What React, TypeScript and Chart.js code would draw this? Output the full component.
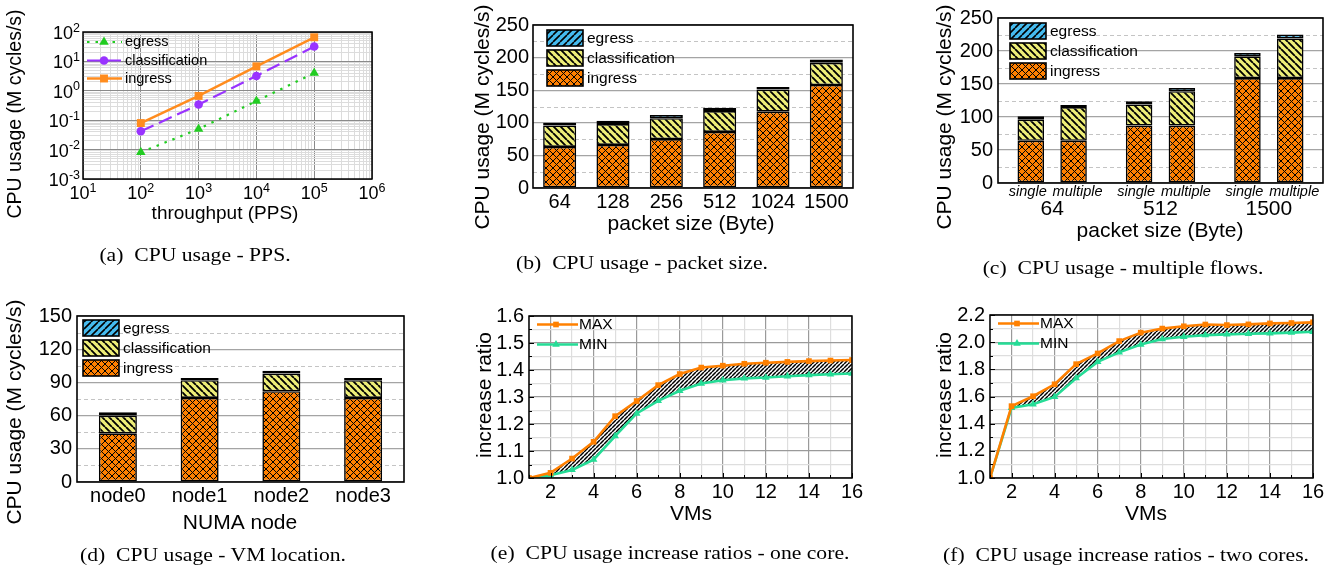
import React, { useEffect, useRef } from 'react';
import { Chart, registerables } from 'chart.js';

Chart.register(...registerables);

const W = 1335;
const H = 574;
const SANS = '"Liberation Sans", Arial, Helvetica, sans-serif';
const SERIF = '"Liberation Serif", "Times New Roman", Times, serif';

// ---------------- data ----------------
// (a) CPU usage vs PPS (log-log)
const PPS_RATES = [1e2, 1e3, 1e4, 1e5];
const PPS_EGRESS = [0.0081, 0.05, 0.45, 4.0];
const PPS_CLASSIFICATION = [0.042, 0.34, 3.2, 32];
const PPS_INGRESS = [0.08, 0.67, 6.8, 66];
const PPS_X_EXPONENTS = [1, 2, 3, 4, 5, 6];
const PPS_Y_EXPONENTS = [-3, -2, -1, 0, 1, 2];

// (b) CPU usage vs packet size
const PACKET_SIZES = ['64', '128', '256', '512', '1024', '1500'];
const SIZE_INGRESS = [63, 66, 75, 86, 117, 158];
const SIZE_CLASSIFICATION = [33, 32, 32, 32, 34, 34];
const SIZE_EGRESS = [4, 5, 5, 5, 4, 5];

// (c) CPU usage, single vs multiple flows
const FLOW_SIZES = ['64', '512', '1500'];
const FLOW_MODES = ['single', 'multiple'];
const SINGLE_INGRESS = [64, 87, 159];
const SINGLE_CLASSIFICATION = [32, 32, 33];
const SINGLE_EGRESS = [5, 5, 5];
const MULTIPLE_INGRESS = [64, 87, 159];
const MULTIPLE_CLASSIFICATION = [51, 52, 60];
const MULTIPLE_EGRESS = [3, 5, 6];

// (d) CPU usage vs VM location
const NUMA_NODES = ['node0', 'node1', 'node2', 'node3'];
const NUMA_INGRESS = [44, 76, 82, 76];
const NUMA_CLASSIFICATION = [16, 16, 16, 16];
const NUMA_EGRESS = [3, 2, 2.5, 2];

// (e)/(f) increase ratios
const VMS = [1, 2, 3, 4, 5, 6, 7, 8, 9, 10, 11, 12, 13, 14, 15, 16];
const ONE_CORE_MAX = [1.0, 1.019, 1.072, 1.134, 1.229, 1.285, 1.344, 1.385, 1.409, 1.416, 1.423, 1.427, 1.43, 1.433, 1.435, 1.437];
const ONE_CORE_MIN = [1.0, 1.01, 1.03, 1.068, 1.155, 1.239, 1.286, 1.323, 1.35, 1.362, 1.369, 1.372, 1.377, 1.381, 1.384, 1.387];
const TWO_CORE_MAX = [1.0, 1.529, 1.602, 1.69, 1.838, 1.917, 2.008, 2.07, 2.1, 2.117, 2.13, 2.126, 2.131, 2.138, 2.141, 2.146];
const TWO_CORE_MIN = [1.0, 1.516, 1.543, 1.597, 1.735, 1.855, 1.925, 1.983, 2.023, 2.04, 2.052, 2.057, 2.062, 2.065, 2.07, 2.077];

// ---------------- styles ----------------
const ORANGE = '#ff8000';
const YELLOW = '#eeee78';
const BLUE = '#45bbef';
const A_GREEN = '#22cc22';
const A_PURPLE = '#9933ff';
const A_ORANGE = '#ff8c1e';
const MIN_GREEN = '#25dc96';

type Area = { l: number; t: number; r: number; b: number };
const AREA_A: Area = { l: 83, t: 32, r: 372, b: 179 };
const AREA_B: Area = { l: 533, t: 25, r: 853, b: 188 };
const AREA_C: Area = { l: 998, t: 18, r: 1323, b: 183 };
const AREA_D: Area = { l: 77, t: 316, r: 404, b: 482 };
const AREA_E: Area = { l: 529, t: 316, r: 852, b: 478 };
const AREA_F: Area = { l: 990, t: 315, r: 1313, b: 478 };

const YW = 50;
const XH = 30;

function layoutFor(a: Area) {
  return { padding: { left: a.l - YW, top: a.t, right: W - a.r, bottom: H - a.b - XH } };
}

function makePattern(kind: string): any {
  const c = document.createElement('canvas');
  const ctx = c.getContext('2d')!;
  let s = 6;
  if (kind === 'cross') {
    s = 7;
    c.width = s; c.height = s;
    ctx.fillStyle = ORANGE; ctx.fillRect(0, 0, s, s);
    ctx.strokeStyle = '#000'; ctx.lineWidth = 1.0;
    ctx.beginPath();
    ctx.moveTo(0, 0); ctx.lineTo(s, s);
    ctx.moveTo(s, 0); ctx.lineTo(0, s);
    ctx.stroke();
  } else if (kind === 'back') {
    s = 7;
    c.width = s; c.height = s;
    ctx.fillStyle = YELLOW; ctx.fillRect(0, 0, s, s);
    ctx.strokeStyle = '#000'; ctx.lineWidth = 1.9;
    ctx.beginPath();
    for (const k of [-s, 0, s]) { ctx.moveTo(k, 0); ctx.lineTo(k + s, s); }
    ctx.stroke();
  } else if (kind === 'fwd') {
    s = 7;
    c.width = s; c.height = s;
    ctx.fillStyle = BLUE; ctx.fillRect(0, 0, s, s);
    ctx.strokeStyle = '#000'; ctx.lineWidth = 1.6;
    ctx.beginPath();
    for (const k of [-s, 0, s]) { ctx.moveTo(k, s); ctx.lineTo(k + s, 0); }
    ctx.stroke();
  } else {
    s = 4;
    c.width = s; c.height = s;
    ctx.fillStyle = '#fff'; ctx.fillRect(0, 0, s, s);
    ctx.strokeStyle = '#000'; ctx.lineWidth = 1.5;
    ctx.beginPath();
    for (const k of [-s, 0, s]) { ctx.moveTo(k, s); ctx.lineTo(k + s, 0); }
    ctx.stroke();
  }
  return ctx.createPattern(c, 'repeat');
}

type TextSpec = { text: string; x: number; y: number; size: number; rotate?: boolean; italic?: boolean; align?: CanvasTextAlign };

function drawText(ctx: CanvasRenderingContext2D, t: TextSpec) {
  ctx.save();
  ctx.fillStyle = '#000';
  ctx.font = `${t.italic ? 'italic ' : ''}${t.size}px ${SANS}`;
  ctx.textAlign = t.align || 'center';
  ctx.textBaseline = 'middle';
  ctx.translate(t.x, t.y);
  if (t.rotate) ctx.rotate(-Math.PI / 2);
  ctx.fillText(t.text, 0, 0);
  ctx.restore();
}

function drawFrame(chart: any, lw = 1.5) {
  const { ctx, chartArea } = chart;
  ctx.save();
  ctx.strokeStyle = '#000';
  ctx.lineWidth = lw;
  ctx.strokeRect(chartArea.left, chartArea.top, chartArea.right - chartArea.left, chartArea.bottom - chartArea.top);
  ctx.restore();
}

function drawMinorY(chart: any, start: number, step: number, max: number) {
  const { ctx, chartArea } = chart;
  const y = chart.scales.y;
  ctx.save();
  ctx.strokeStyle = '#c4c4c4';
  ctx.lineWidth = 1;
  ctx.setLineDash([4, 3]);
  for (let v = start; v < max; v += step) {
    const py = Math.round(y.getPixelForValue(v)) + 0.5;
    ctx.beginPath();
    ctx.moveTo(chartArea.left, py);
    ctx.lineTo(chartArea.right, py);
    ctx.stroke();
  }
  ctx.restore();
}

function drawMarker(ctx: CanvasRenderingContext2D, style: string, x: number, y: number, r: number, color: string) {
  ctx.save();
  ctx.fillStyle = color;
  ctx.beginPath();
  if (style === 'rect') {
    const s = Math.SQRT1_2 * r;
    ctx.rect(x - s, y - s, 2 * s, 2 * s);
  } else if (style === 'triangle') {
    let rad = 0;
    ctx.moveTo(x + Math.sin(rad) * r, y - Math.cos(rad) * r);
    rad += (2 * Math.PI) / 3;
    ctx.lineTo(x + Math.sin(rad) * r, y - Math.cos(rad) * r);
    rad += (2 * Math.PI) / 3;
    ctx.lineTo(x + Math.sin(rad) * r, y - Math.cos(rad) * r);
    ctx.closePath();
  } else {
    ctx.arc(x, y, r, 0, Math.PI * 2);
  }
  ctx.fill();
  ctx.restore();
}

function drawBarLegend(chart: any, order: number[], x: number, y: number, size: number) {
  const ctx = chart.ctx;
  order.forEach((di, row) => {
    const ds = chart.data.datasets[di];
    const top = y + row * 20;
    ctx.save();
    ctx.fillStyle = ds.backgroundColor;
    ctx.fillRect(x, top, 36, 16);
    ctx.strokeStyle = '#000';
    ctx.lineWidth = 1.6;
    ctx.strokeRect(x, top, 36, 16);
    ctx.restore();
    drawText(ctx, { text: ds.label, x: x + 40, y: top + 8.5, size, align: 'left' });
  });
}

function drawLineLegend(chart: any, rows: { di: number; y: number }[], x0: number, len: number, markX: number, textX: number, size: number) {
  const ctx = chart.ctx;
  rows.forEach(({ di, y }) => {
    const ds = chart.data.datasets[di];
    ctx.save();
    ctx.strokeStyle = ds.borderColor;
    ctx.lineWidth = ds.borderWidth;
    ctx.setLineDash(ds.borderDash || []);
    ctx.beginPath();
    ctx.moveTo(x0, y);
    ctx.lineTo(x0 + len, y);
    ctx.stroke();
    ctx.restore();
    drawMarker(ctx, ds.pointStyle, markX, y, ds.pointRadius, ds.pointBackgroundColor);
    drawText(ctx, { text: ds.label, x: textX, y, size, align: 'left' });
  });
}

function drawPow(ctx: CanvasRenderingContext2D, x: number, y: number, exp: string, align: 'center' | 'right') {
  ctx.save();
  ctx.fillStyle = '#000';
  ctx.textBaseline = 'alphabetic';
  ctx.textAlign = 'left';
  ctx.font = `18px ${SANS}`;
  const w1 = ctx.measureText('10').width;
  ctx.font = `12.5px ${SANS}`;
  const w2 = ctx.measureText(exp).width;
  const x0 = align === 'center' ? x - (w1 + w2) / 2 : x - (w1 + w2);
  ctx.font = `18px ${SANS}`;
  ctx.fillText('10', x0, y);
  ctx.font = `12.5px ${SANS}`;
  ctx.fillText(exp, x0 + w1, y - 7.5);
  ctx.restore();
}

const BASE_OPTIONS = {
  responsive: false,
  animation: false,
  events: [],
};
const BASE_PLUGINS = { legend: { display: false }, tooltip: { enabled: false } };

// ---------------- (a) ----------------
function logTicks(exps: number[]) {
  const t: { value: number }[] = [];
  exps.forEach((e, i) => {
    const base = Math.pow(10, e);
    t.push({ value: base });
    if (i < exps.length - 1) for (let m = 2; m <= 9; m++) t.push({ value: m * base });
  });
  return t;
}
const isDecade = (v: number) => Math.abs(Math.log10(v) - Math.round(Math.log10(v))) < 1e-6;

function buildA(): any {
  const area = AREA_A;
  const pts = (ys: number[]) => PPS_RATES.map((x, i) => ({ x, y: ys[i] }));
  const gridColor = (c: any) => (c.tick && isDecade(c.tick.value) ? '#8a8a8a' : '#dcdcdc');
  const line = (label: string, ys: number[], color: string, dash: number[], style: string, r: number, w: number) => ({
    label, data: pts(ys), borderColor: color, backgroundColor: color, borderWidth: w, borderDash: dash,
    pointStyle: style, pointRadius: r, pointBackgroundColor: color, pointBorderColor: color, pointBorderWidth: 0,
    fill: false, tension: 0,
  });
  return {
    type: 'line',
    data: {
      datasets: [
        line('egress', PPS_EGRESS, A_GREEN, [2.5, 6], 'triangle', 5.5, 2.2),
        line('classification', PPS_CLASSIFICATION, A_PURPLE, [14, 6], 'circle', 4.3, 2.2),
        line('ingress', PPS_INGRESS, A_ORANGE, [], 'rect', 5.6, 2.4),
      ],
    },
    options: {
      ...BASE_OPTIONS,
      plugins: BASE_PLUGINS,
      layout: layoutFor(area),
      scales: {
        x: {
          type: 'logarithmic', min: 10, max: 1e6,
          afterBuildTicks: (s: any) => { s.ticks = logTicks(PPS_X_EXPONENTS); },
          ticks: { display: false },
          grid: { color: gridColor, drawTicks: false, lineWidth: 1 },
          border: { display: false },
          afterFit: (s: any) => { s.height = XH; },
        },
        y: {
          type: 'logarithmic', min: 1e-3, max: 100,
          afterBuildTicks: (s: any) => { s.ticks = logTicks(PPS_Y_EXPONENTS); },
          ticks: { display: false },
          grid: { color: gridColor, drawTicks: false, lineWidth: 1 },
          border: { display: false },
          afterFit: (s: any) => { s.width = YW; },
        },
      },
    },
    plugins: [{
      id: 'decorA',
      afterDraw(chart: any) {
        const { ctx } = chart;
        drawFrame(chart, 1.5);
        const xs = chart.scales.x;
        const ys = chart.scales.y;
        PPS_X_EXPONENTS.forEach((e) => drawPow(ctx, xs.getPixelForValue(Math.pow(10, e)), area.b + 20, String(e), 'center'));
        PPS_Y_EXPONENTS.forEach((e) => drawPow(ctx, area.l - 3, ys.getPixelForValue(Math.pow(10, e)) + 7, String(e), 'right'));
        drawLineLegend(chart, [{ di: 0, y: area.t + 10 }, { di: 1, y: area.t + 28.5 }, { di: 2, y: area.t + 46.5 }], area.l + 4, 35, area.l + 21, area.l + 42, 14.5);
        drawText(ctx, { text: 'CPU usage (M cycles/s)', x: 16, y: 114, size: 19.5, rotate: true });
        drawText(ctx, { text: 'throughput (PPS)', x: 225, y: 214, size: 19 });
      },
    }],
  };
}

// ---------------- bar helpers ----------------
function barDs(label: string, data: number[], fill: any, stack?: string, extra: any = {}) {
  const d: any = { label, data, backgroundColor: fill, borderColor: '#000', borderWidth: 1.6, borderSkipped: false, ...extra };
  if (stack) d.stack = stack;
  return d;
}

function barScales(yMax: number, yStep: number, showX: boolean, yPad: number) {
  return {
    x: {
      stacked: true,
      grid: { display: false, drawTicks: false },
      border: { display: false },
      ticks: { display: showX, color: '#000', font: { family: SANS, size: 20 }, padding: 2, maxRotation: 0, autoSkip: false },
      afterFit: (s: any) => { s.height = XH; },
    },
    y: {
      stacked: true, min: 0, max: yMax,
      grid: { color: '#a4a4a4', lineWidth: 1.3, drawTicks: false },
      border: { display: false },
      ticks: { stepSize: yStep, color: '#000', font: { family: SANS, size: 20 }, padding: yPad },
      afterFit: (s: any) => { s.width = YW; },
    },
  };
}

// ---------------- (b) ----------------
function buildB(): any {
  const area = AREA_B;
  const bp = { categoryPercentage: 1, barPercentage: 0.62 };
  return {
    type: 'bar',
    data: {
      labels: PACKET_SIZES,
      datasets: [
        barDs('ingress', SIZE_INGRESS, makePattern('cross'), undefined, bp),
        barDs('classification', SIZE_CLASSIFICATION, makePattern('back'), undefined, bp),
        barDs('egress', SIZE_EGRESS, makePattern('fwd'), undefined, bp),
      ],
    },
    options: { ...BASE_OPTIONS, plugins: BASE_PLUGINS, layout: layoutFor(area), scales: barScales(250, 50, true, 4) },
    plugins: [{
      id: 'decorB',
      beforeDatasetsDraw(chart: any) { drawMinorY(chart, 25, 50, 250); },
      afterDraw(chart: any) {
        const { ctx } = chart;
        drawFrame(chart, 1.6);
        drawBarLegend(chart, [2, 1, 0], area.l + 14, area.t + 5, 15.5);
        drawText(ctx, { text: 'CPU usage (M cycles/s)', x: 483, y: 117, size: 21, rotate: true });
        drawText(ctx, { text: 'packet size (Byte)', x: 691, y: 224, size: 21 });
      },
    }],
  };
}

// ---------------- (c) ----------------
function buildC(): any {
  const area = AREA_C;
  const bp = { categoryPercentage: 0.79, barPercentage: 0.62 };
  const pc = makePattern('cross');
  const pb = makePattern('back');
  const pf = makePattern('fwd');
  return {
    type: 'bar',
    data: {
      labels: FLOW_SIZES,
      datasets: [
        barDs('ingress', SINGLE_INGRESS, pc, FLOW_MODES[0], bp),
        barDs('classification', SINGLE_CLASSIFICATION, pb, FLOW_MODES[0], bp),
        barDs('egress', SINGLE_EGRESS, pf, FLOW_MODES[0], bp),
        barDs('ingress', MULTIPLE_INGRESS, pc, FLOW_MODES[1], bp),
        barDs('classification', MULTIPLE_CLASSIFICATION, pb, FLOW_MODES[1], bp),
        barDs('egress', MULTIPLE_EGRESS, pf, FLOW_MODES[1], bp),
      ],
    },
    options: { ...BASE_OPTIONS, plugins: BASE_PLUGINS, layout: layoutFor(area), scales: barScales(250, 50, false, 5) },
    plugins: [{
      id: 'decorC',
      beforeDatasetsDraw(chart: any) { drawMinorY(chart, 25, 50, 250); },
      afterDraw(chart: any) {
        const { ctx } = chart;
        drawFrame(chart, 1.6);
        const xs = chart.scales.x;
        const mSingle = chart.getDatasetMeta(0).data;
        const mMulti = chart.getDatasetMeta(3).data;
        FLOW_SIZES.forEach((label, i) => {
          drawText(ctx, { text: FLOW_MODES[0], x: mSingle[i].x - 3, y: 192, size: 14.5, italic: true });
          drawText(ctx, { text: FLOW_MODES[1], x: mMulti[i].x + 4, y: 192, size: 14.5, italic: true });
          drawText(ctx, { text: label, x: xs.getPixelForValue(i), y: 209.5, size: 21 });
        });
        drawBarLegend(chart, [2, 1, 0], area.l + 12, area.t + 5, 15.5);
        drawText(ctx, { text: 'CPU usage (M cycles/s)', x: 945, y: 117, size: 21, rotate: true });
        drawText(ctx, { text: 'packet size (Byte)', x: 1160, y: 231, size: 21 });
      },
    }],
  };
}

// ---------------- (d) ----------------
function buildD(): any {
  const area = AREA_D;
  const bp = { categoryPercentage: 1, barPercentage: 0.465 };
  return {
    type: 'bar',
    data: {
      labels: NUMA_NODES,
      datasets: [
        barDs('ingress', NUMA_INGRESS, makePattern('cross'), undefined, bp),
        barDs('classification', NUMA_CLASSIFICATION, makePattern('back'), undefined, bp),
        barDs('egress', NUMA_EGRESS, makePattern('fwd'), undefined, bp),
      ],
    },
    options: { ...BASE_OPTIONS, plugins: BASE_PLUGINS, layout: layoutFor(area), scales: barScales(150, 30, true, 5) },
    plugins: [{
      id: 'decorD',
      beforeDatasetsDraw(chart: any) { drawMinorY(chart, 15, 30, 150); },
      afterDraw(chart: any) {
        const { ctx } = chart;
        drawFrame(chart, 1.6);
        drawBarLegend(chart, [2, 1, 0], area.l + 6, area.t + 4, 15.5);
        drawText(ctx, { text: 'CPU usage (M cycles/s)', x: 15, y: 412, size: 21, rotate: true });
        drawText(ctx, { text: 'NUMA node', x: 240, y: 523, size: 21 });
      },
    }],
  };
}

// ---------------- (e)/(f) ----------------
function buildRatio(area: Area, maxData: number[], minData: number[], yMax: number, yStep: number, yTitleX: number, xTitleX: number): any {
  const majorMinor = (isMajor: boolean) => (isMajor ? '#9a9a9a' : '#dedede');
  return {
    type: 'line',
    data: {
      labels: VMS,
      datasets: [
        {
          label: 'MAX', data: VMS.map((x, i) => ({ x, y: maxData[i] })),
          borderColor: ORANGE, borderWidth: 2.6, backgroundColor: makePattern('band'), fill: '+1',
          pointStyle: 'rect', pointRadius: 4, pointBackgroundColor: ORANGE, pointBorderColor: ORANGE, pointBorderWidth: 0, tension: 0,
        },
        {
          label: 'MIN', data: VMS.map((x, i) => ({ x, y: minData[i] })),
          borderColor: MIN_GREEN, borderWidth: 2.6, backgroundColor: MIN_GREEN, fill: false,
          pointStyle: 'triangle', pointRadius: 4.4, pointBackgroundColor: MIN_GREEN, pointBorderColor: MIN_GREEN, pointBorderWidth: 0, tension: 0,
        },
      ],
    },
    options: {
      ...BASE_OPTIONS,
      plugins: { ...BASE_PLUGINS, filler: { drawTime: 'beforeDatasetsDraw' } },
      layout: layoutFor(area),
      scales: {
        x: {
          type: 'linear', min: VMS[0], max: VMS[VMS.length - 1],
          afterBuildTicks: (s: any) => { s.ticks = VMS.map((v) => ({ value: v })); },
          ticks: { autoSkip: false, maxRotation: 0, color: '#000', font: { family: SANS, size: 20 }, padding: 2, callback: (v: any) => (Number(v) % 2 === 0 ? String(v) : '') },
          grid: { color: (c: any) => majorMinor(!!c.tick && c.tick.value % 2 === 0), drawTicks: false, lineWidth: 1.2 },
          border: { display: false },
          afterFit: (s: any) => { s.height = XH; },
        },
        y: {
          min: 1, max: yMax,
          ticks: { stepSize: yStep, autoSkip: false, color: '#000', font: { family: SANS, size: 20 }, padding: 5, callback: (v: any, i: number) => (i % 2 === 0 ? Number(v).toFixed(1) : '') },
          grid: { color: (c: any) => majorMinor(c.index % 2 === 0), drawTicks: false, lineWidth: 1.2 },
          border: { display: false },
          afterFit: (s: any) => { s.width = YW; },
        },
      },
    },
    plugins: [{
      id: 'decorRatio',
      afterDraw(chart: any) {
        const { ctx, chartArea } = chart;
        ctx.save();
        ctx.strokeStyle = '#000';
        ctx.lineWidth = 1;
        chart.scales.y.ticks.forEach((t: any, i: number) => {
          const py = Math.round(chart.scales.y.getPixelForValue(t.value)) + 0.5;
          ctx.beginPath(); ctx.moveTo(chartArea.left, py); ctx.lineTo(chartArea.left + (i % 2 === 0 ? 5 : 3), py); ctx.stroke();
        });
        chart.scales.x.ticks.forEach((t: any) => {
          const px = Math.round(chart.scales.x.getPixelForValue(t.value)) + 0.5;
          ctx.beginPath(); ctx.moveTo(px, chartArea.bottom); ctx.lineTo(px, chartArea.bottom - (t.value % 2 === 0 ? 5 : 3)); ctx.stroke();
        });
        ctx.restore();
        drawFrame(chart, 1.5);
        drawLineLegend(chart, [{ di: 0, y: area.t + 8.5 }, { di: 1, y: area.t + 28.5 }], area.l + 8, 41, area.l + 27, area.l + 50, 15.5);
        drawText(ctx, { text: 'increase ratio', x: yTitleX, y: 395, size: 21, rotate: true });
        drawText(ctx, { text: 'VMs', x: xTitleX, y: 514.5, size: 21 });
      },
    }],
  };
}

const buildE = () => buildRatio(AREA_E, ONE_CORE_MAX, ONE_CORE_MIN, 1.6, 0.05, 485, 691);
const buildF = () => buildRatio(AREA_F, TWO_CORE_MAX, TWO_CORE_MIN, 2.2, 0.1, 945, 1146);

// ---------------- components ----------------
function ChartLayer({ build }: { build: () => any }) {
  const ref = useRef<HTMLCanvasElement | null>(null);
  useEffect(() => {
    if (!ref.current) return undefined;
    const chart = new Chart(ref.current, build());
    return () => chart.destroy();
  }, [build]);
  return <canvas ref={ref} width={W} height={H} style={{ position: 'absolute', left: 0, top: 0, width: W, height: H }} />;
}

const CAPTIONS = [
  { text: '(a)\u00a0\u00a0CPU usage - PPS.', x: 195, y: 255 },
  { text: '(b)\u00a0\u00a0CPU usage - packet size.', x: 642, y: 263 },
  { text: '(c)\u00a0\u00a0CPU usage - multiple flows.', x: 1123, y: 268 },
  { text: '(d)\u00a0\u00a0CPU usage - VM location.', x: 213, y: 555 },
  { text: '(e)\u00a0\u00a0CPU usage increase ratios - one core.', x: 670, y: 553 },
  { text: '(f)\u00a0\u00a0CPU usage increase ratios - two cores.', x: 1126, y: 555 },
];

const BUILDERS = [buildA, buildB, buildC, buildD, buildE, buildF];

export default function App() {
  return (
    <div style={{ position: 'fixed', left: 0, top: 0, width: W, height: H, background: '#fff', overflow: 'hidden' }}>
      {BUILDERS.map((b, i) => <ChartLayer key={i} build={b} />)}
      {CAPTIONS.map((c, i) => (
        <div
          key={'cap' + i}
          style={{
            position: 'absolute', left: c.x, top: c.y, transform: 'translate(-50%, -50%) scaleX(1.17)',
            fontFamily: SERIF, fontSize: 18.5, lineHeight: 1, whiteSpace: 'nowrap', color: '#000',
          }}
        >
          {c.text}
        </div>
      ))}
    </div>
  );
}
